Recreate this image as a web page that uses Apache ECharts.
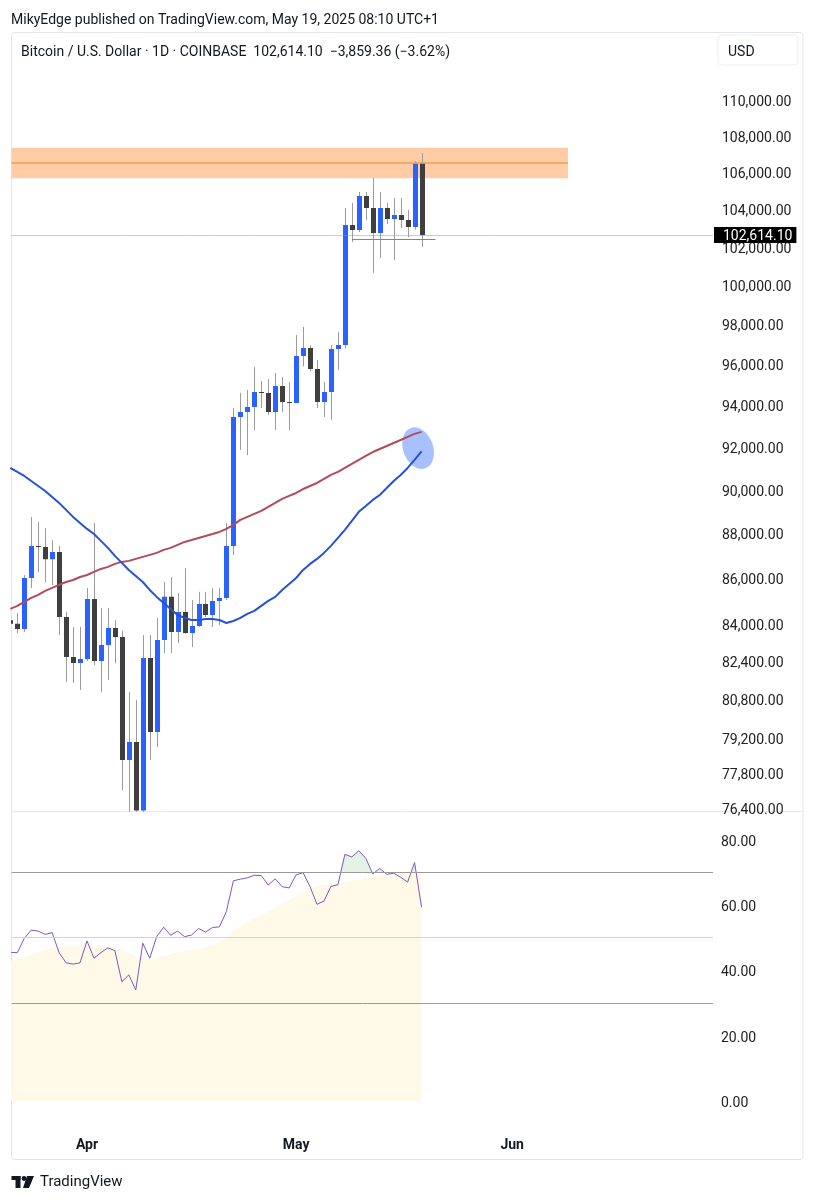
<!DOCTYPE html>
<html><head><meta charset="utf-8">
<script src="https://cdn.jsdelivr.net/npm/echarts@6/dist/echarts.min.js"></script>
<style>html,body{margin:0;padding:0;background:#fff}#c{width:815px;height:1200px}</style>
</head><body><div id="c"></div>
<script>
// ---------- DATA ----------
const dates = ['2025-03-21','2025-03-22','2025-03-23','2025-03-24','2025-03-25','2025-03-26','2025-03-27','2025-03-28','2025-03-29','2025-03-30','2025-03-31',
'2025-04-01','2025-04-02','2025-04-03','2025-04-04','2025-04-05','2025-04-06','2025-04-07','2025-04-08','2025-04-09','2025-04-10',
'2025-04-11','2025-04-12','2025-04-13','2025-04-14','2025-04-15','2025-04-16','2025-04-17','2025-04-18','2025-04-19','2025-04-20',
'2025-04-21','2025-04-22','2025-04-23','2025-04-24','2025-04-25','2025-04-26','2025-04-27','2025-04-28','2025-04-29','2025-04-30',
'2025-05-01','2025-05-02','2025-05-03','2025-05-04','2025-05-05','2025-05-06','2025-05-07','2025-05-08','2025-05-09','2025-05-10',
'2025-05-11','2025-05-12','2025-05-13','2025-05-14','2025-05-15','2025-05-16','2025-05-17','2025-05-18','2025-05-19'];
const open = [84150,84000,83770,86000,87430,87380,86840,87160,84290,82570,82320,
82490,85080,82400,83080,83810,83430,78310,79040,76300,82530,
79440,83300,85170,83640,84510,83600,83900,84860,84380,84990,
85120,87430,93430,93680,93920,94640,94600,93680,94940,94160,
94110,96420,96810,95770,94160,94640,96760,96960,103140,102880,
104700,104050,102720,104050,103460,103680,103410,103040,106473.46];
const close = [84000,83770,86000,87430,87380,86840,87160,84290,82570,82320,82490,
85080,82400,83080,83810,83430,78310,79040,76300,82530,79440,
83300,85170,83640,84510,83600,83900,84860,84380,84990,85120,
87430,93430,93680,93920,94640,94600,93680,94940,94160,94110,
96420,96810,95770,94160,94640,96760,96960,103140,102880,104700,
104050,102720,104050,103460,103680,103410,103040,106473.46,102614.10];
const low = [83700,83590,83650,85560,86260,85820,85690,83510,81510,81470,81180,
82400,82230,81090,81600,82300,77100,74500,76000,74600,78310,
78830,82740,82740,83170,83550,83000,83860,84290,83860,83940,
85030,87020,91860,91620,92810,93870,93530,92810,93680,92810,
94110,95900,95650,93870,93430,93290,95720,96800,102240,102770,
103400,100630,101410,103200,101300,102980,102510,102900,101980];
const high = [84700,84470,86130,88745,88520,88240,87700,87430,84500,83860,83860,
85560,88470,84680,84680,84160,83700,81090,80760,83510,83510,
84250,85820,86040,85340,86440,85030,85390,85390,85560,85560,
88480,93870,94600,94740,95870,95180,95270,95580,95380,95130,
97460,97870,96950,96220,95130,96960,97610,104050,104320,104910,
104910,105670,104910,104320,104590,104590,103940,106600,107040];
const maFast = [91016,90828,90641,90407,90173,89940,89666,89391,89070,88750,88475,
88202,87973,87660,87346,86988,86672,86358,86090,85825,85474,
85168,84905,84642,84379,84250,84162,84162,84206,84206,84162,
84031,84118,84250,84425,84556,84775,84994,85168,85474,85737,
86000,86358,86627,86851,87120,87435,87794,88156,88568,88980,
89253,89528,89757,90080,90407,90688,91016,91392,91800];
const maSlow = [84644,84775,84950,85126,85257,85432,85563,85694,85825,85912,86045,
86134,86269,86403,86493,86627,86717,86762,86851,86941,87030,
87120,87254,87344,87478,87613,87702,87792,87882,87971,88064,
88202,88385,88614,88751,88889,89026,89209,89392,89575,89713,
89850,90033,90173,90314,90501,90688,90828,91016,91203,91390,
91577,91764,91906,92048,92192,92336,92480,92624,92720];
const rsi = [45.5,45.4,49.8,52.3,52.0,51.0,51.5,45.4,42.3,41.9,42.3,
49.0,43.7,45.4,46.9,46.0,36.5,38.6,34.0,48.3,43.7,
50.3,53.2,50.7,52.0,50.3,50.8,52.8,51.7,53.1,53.3,
58.0,67.4,67.9,68.3,69.1,69.0,66.1,68.0,65.6,65.2,
69.2,69.9,65.6,60.2,61.2,65.7,66.2,75.5,74.7,76.6,
74.3,69.5,71.2,69.4,69.7,68.5,67.0,73.0,59.3];
const rsiMa = [42.7,43.2,44.0,44.8,45.5,46.2,46.8,47.2,47.4,47.4,47.3,
47.2,47.2,47.2,47.1,47.0,46.2,45.2,44.0,43.7,43.2,
43.5,44.3,44.9,45.5,45.8,46.2,46.7,47.1,47.6,48.7,
50.2,52.4,53.5,54.8,56.0,57.0,58.0,59.2,60.3,61.5,
62.8,64.0,65.0,65.7,66.3,66.4,66.5,66.9,67.4,67.9,
68.4,68.6,69.0,69.3,69.4,69.4,69.5,70.2,70.1];
const priceTicks = [110000,108000,106000,104000,102000,100000,98000,96000,94000,92000,90000,88000,86000,84000,82400,80800,79200,77800,76400];
const rsiTicks = [0,20,40,60,80];
const rsiLevels = [70,50,30];
const monthTicks = ['2025-04-01','2025-05-01','2025-06-01'];
const monthNames = ['Jan','Feb','Mar','Apr','May','Jun','Jul','Aug','Sep','Oct','Nov','Dec'];
const zone = {top:107330, bottom:105650, mid:106500, start:'2025-03-21T04:02:00Z', end:'2025-06-09'};
const support = {level:102400, start:'2025-05-09', end:'2025-05-21'};
const marker = ['2025-05-18T12:00:00Z', 91950];
const xRange = ['2025-03-21T04:02:00Z','2025-06-29T19:30:00Z'];
const priceRange = [76250, 113862];
const rsiRange = [-7.35, 88.55];

// ---------- helpers ----------
const DAY = 86400000;
const ts = s => Date.parse(s.length === 10 ? s + 'T00:00:00Z' : s);
const fmt = v => Number(v).toLocaleString('en-US',{minimumFractionDigits:2, maximumFractionDigits:2});
const pairs = arr => dates.map((d,i)=>[ts(d), arr[i]]);
const UP='#2962ff', DOWN='#3f3f3f', WICK='#9c9c9c', TXT='#131722', FONT='Roboto';
const last = close.length-1;
const chg = close[last]-close[last-1];
const pct = chg/close[last-1]*100;
const signed = v => (v<0?'\u2212':'+') + fmt(Math.abs(v));
const headerText = 'Bitcoin / U.S. Dollar \u00b7 1D \u00b7 COINBASE  ' + fmt(close[last]) + '  ' + signed(chg) + ' (' + (pct<0?'\u2212':'+') + Math.abs(pct).toFixed(2) + '%)';
const axisRich = {p:{padding:[5,0,0,0], fontFamily:FONT, fontSize:14, color:'#222'}};

const chart = echarts.init(document.getElementById('c'), null, {renderer:'canvas'});
const L = 11.5, W = 701.5;
const xBase = {type:'value', min:ts(xRange[0]), max:ts(xRange[1]), axisLine:{show:false}, axisTick:{show:false}, splitLine:{show:false}};
const option = {
  animation:false,
  backgroundColor:'#ffffff',
  grid:[
    {left:L, top:33, width:W, height:778.7, outerBoundsMode:'none'},
    {left:L, top:811.7, width:W, height:313.3, outerBoundsMode:'none'},
    {left:L, top:811.7, width:W, height:60.6, outerBoundsMode:'none'}
  ],
  xAxis:[
    Object.assign({gridIndex:0, axisLabel:{show:false}}, xBase),
    Object.assign({gridIndex:1,
      axisLabel:{customValues:monthTicks.map(ts), margin:13, fontFamily:FONT, fontSize:14, fontWeight:'bold', color:TXT,
        formatter:v=>monthNames[new Date(v).getUTCMonth()]}}, xBase),
    Object.assign({gridIndex:2, axisLabel:{show:false}}, xBase)
  ],
  yAxis:[
    {type:'log', logBase:10, gridIndex:0, position:'right', min:priceRange[0], max:priceRange[1], axisLine:{show:false}, axisTick:{show:false}, splitLine:{show:false},
      axisLabel:{customValues:priceTicks, margin:9, align:'left', rich:axisRich, formatter:v=>'{p|'+fmt(Math.round(v))+'}'}},
    {type:'value', gridIndex:1, position:'right', min:rsiRange[0], max:rsiRange[1], axisLine:{show:false}, axisTick:{show:false}, splitLine:{show:false},
      axisLabel:{customValues:rsiTicks, margin:8, align:'left', rich:axisRich, formatter:v=>'{p|'+Number(v).toFixed(2)+'}'}},
    {type:'value', gridIndex:2, min:70, max:rsiRange[1], show:false}
  ],
  series:[
    {name:'marker', type:'scatter', xAxisIndex:0, yAxisIndex:0, silent:true, z:1,
      data:[[ts(marker[0]), marker[1]]], symbol:'circle', symbolSize:[30,43], symbolRotate:20,
      itemStyle:{color:'rgba(41,98,255,0.5)'}},
    {name:'zones', type:'line', xAxisIndex:0, yAxisIndex:0, data:[], silent:true, z:1,
      markArea:{silent:true, itemStyle:{color:'#ffcca6'},
        data:[[{coord:[ts(zone.start), zone.top]},{coord:[ts(zone.end), zone.bottom]}]]},
      markLine:{silent:true, symbol:['none','none'],
        data:[
          [{coord:[ts(zone.start), zone.mid], lineStyle:{color:'#f0a050', width:1.5, type:'solid'}, label:{show:false}},{coord:[ts(zone.end), zone.mid]}],
          [{coord:[ts(support.start), support.level], lineStyle:{color:'#b0707c', width:1, type:'solid'}, label:{show:false}},{coord:[ts(support.end), support.level]}],
          {yAxis:close[last], lineStyle:{color:'#9598a1', width:1, type:'dotted'},
            label:{show:true, position:'end', distance:1, formatter:p=>'{t|'+fmt(p.value)+'}', backgroundColor:'#000',
              padding:[0,4,0,9],
              rich:{t:{color:'#fff', fontFamily:FONT, fontSize:14, lineHeight:16, padding:[4,0,0,0]}}}}
        ]}},
    {name:'BTCUSD', type:'custom', xAxisIndex:0, yAxisIndex:0, clip:true, z:3,
      data:dates.map((d,i)=>[ts(d), open[i], close[i], low[i], high[i]]),
      encode:{x:0, y:[1,2,3,4]},
      renderItem(params, api){
        const t=api.value(0), o=api.value(1), c=api.value(2), l=api.value(3), h=api.value(4);
        const pH=api.coord([t,h]), pL=api.coord([t,l]), pO=api.coord([t,o]), pC=api.coord([t,c]);
        const w=api.size([DAY,0],[t,o])[0]*0.72;
        const top=Math.min(pO[1],pC[1]), bh=Math.max(Math.abs(pO[1]-pC[1]),1);
        const xc=Math.round(pO[0])+0.5;
        return {type:'group', children:[
          {type:'line', shape:{x1:xc,y1:pH[1],x2:xc,y2:pL[1]}, style:{stroke:WICK, lineWidth:1}},
          {type:'rect', shape:{x:xc-w/2, y:top, width:w, height:bh}, style:{fill:c>=o?UP:DOWN}}
        ]};
      }},
    {name:'MA slow', type:'line', xAxisIndex:0, yAxisIndex:0, data:pairs(maSlow), showSymbol:false, silent:true, z:4,
      lineStyle:{color:'#b34b5c', width:2}},
    {name:'MA fast', type:'line', xAxisIndex:0, yAxisIndex:0, data:pairs(maFast), showSymbol:false, silent:true, z:4,
      lineStyle:{color:'#2552d8', width:2}},
    {name:'RSI MA', type:'line', xAxisIndex:1, yAxisIndex:1, data:pairs(rsiMa), showSymbol:false, silent:true, z:1,
      lineStyle:{width:0, opacity:0}, areaStyle:{color:'#fff9e8', opacity:1}},
    {name:'RSI OB', type:'line', xAxisIndex:2, yAxisIndex:2, data:pairs(rsi), showSymbol:false, silent:true, z:2, clip:true,
      lineStyle:{width:0, opacity:0},
      areaStyle:{origin:'start', opacity:1, color:new echarts.graphic.LinearGradient(0,0,0,1,[{offset:0,color:'rgba(76,175,80,0.16)'},{offset:1,color:'rgba(76,175,80,0.03)'}])}},
    {name:'RSI', type:'line', xAxisIndex:1, yAxisIndex:1, data:pairs(rsi), showSymbol:false, silent:true, z:3,
      lineStyle:{color:'#7e57c2', width:1},
      markLine:{silent:true, symbol:['none','none'], label:{show:false},
        data:rsiLevels.map(v=>({yAxis:v, lineStyle:{type:'solid', width:1, color: v===50 ? '#d2d2d2' : '#9a9a9a'}}))}}
  ],
  graphic:[
    {type:'rect', shape:{x:L, y:32.5, width:791.5, height:1127, r:3}, style:{fill:null, stroke:'#e3e5ea', lineWidth:1}, silent:true, z:-1},
    {type:'line', shape:{x1:L, y1:811.7, x2:803, y2:811.7}, style:{stroke:'#e3e5ea', lineWidth:1}, silent:true},
    {type:'text', x:11, y:20, style:{text:'MikyEdge published on TradingView.com, May 19, 2025 08:10 UTC+1', font:'14px Roboto', fill:TXT, verticalAlign:'middle'}},
    {type:'text', x:21, y:52, style:{text:headerText, font:'14px Roboto', fill:TXT, verticalAlign:'middle'}},
    {type:'rect', shape:{x:718, y:35, width:80, height:30, r:4}, style:{fill:'#fff', stroke:'#eceef2', lineWidth:1}},
    {type:'text', x:728, y:52, style:{text:'USD', font:'14px Roboto', fill:TXT, verticalAlign:'middle'}},
    {type:'rect', shape:{x:11.5, y:1176, width:9, height:4}, style:{fill:'#131722'}},
    {type:'rect', shape:{x:15.5, y:1176, width:5, height:12}, style:{fill:'#131722'}},
    {type:'circle', shape:{cx:24, cy:1178.5, r:2.4}, style:{fill:'#131722'}},
    {type:'polygon', shape:{points:[[27,1176],[34,1176],[29,1188],[23,1188]]}, style:{fill:'#131722'}},
    {type:'text', x:40, y:1182, style:{text:'TradingView', font:'15px Roboto', fill:TXT, verticalAlign:'middle'}}
  ]
};
chart.setOption(option);
</script></body></html>
